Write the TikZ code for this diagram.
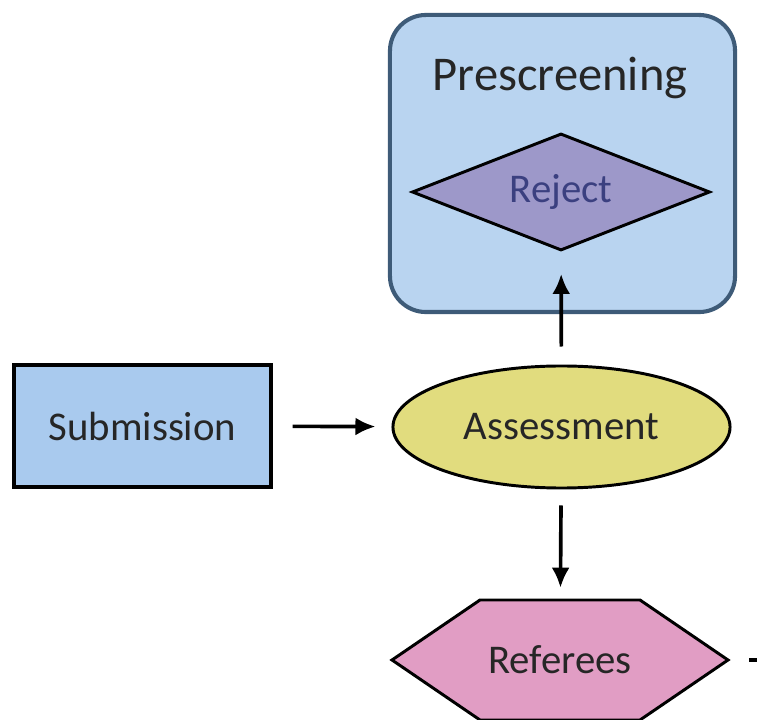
\documentclass[tikz,border=0pt]{standalone}
\usepackage{fontspec}
\setmainfont{Carlito}
\usetikzlibrary{%
  arrows.meta,%
  shapes.geometric%
}
\definecolor{boxblue}{HTML}{A9CAEE}
\definecolor{panelblue}{HTML}{B9D4F0}
\definecolor{paneledge}{HTML}{3E5B78}
\definecolor{diapurple}{HTML}{9D98C9}
\definecolor{ellyellow}{HTML}{E1DC7E}
\definecolor{hexpink}{HTML}{E19DC4}
\definecolor{rejtext}{HTML}{3B4080}
\tikzset{
  lbl/.style={font=\fontsize{29}{34}\selectfont,text=black!85},
  edge/.style={draw,line width=2.1pt},
  flow/.style={line width=2.6pt,-{Latex[length=0.5cm,width=0.45cm]}}
}

\begin{document}
\begin{tikzpicture}[x=0.025cm,y=-0.025cm]
  \useasboundingbox (0,0) rectangle (757,720);
  \node[draw=paneledge,line width=2.9pt,fill=panelblue,rounded corners=0.9cm,
    minimum width=8.625cm,minimum height=7.425cm] (pre) at (562.5,163.5) {};
  \node[font=\fontsize{34.5}{40}\selectfont,text=black!85] (pretitle) at (560,78) {Prescreening};
  \node[lbl,text=rejtext,diamond,aspect=2.55,edge,fill=diapurple,inner sep=0pt,
    minimum width=7.45cm,minimum height=2.925cm] (rej) at (561,192) {Reject};
  \node[lbl,edge,line width=2.4pt,fill=boxblue,minimum width=6.425cm,
    minimum height=3.05cm] (sub) at (142.5,426) {Submission};
  \node[lbl,ellipse,edge,fill=ellyellow,minimum width=8.425cm,
    minimum height=3.05cm] (ass) at (561.5,427) {Assessment};
  % hexagon behind the label
  \coordinate (hexc) at (560,660);
  \draw[line width=2.1pt,fill=hexpink,line join=miter] (hexc) ++(-168,0) -- ++(88,-60)
    -- ++(160,0) -- ++(88,60) -- ++(-88,60) -- ++(-160,0) -- cycle;
  \node[lbl,minimum width=8.45cm,minimum height=3cm] (ref) at (hexc) {Referees};
  \coordinate (away) at (775,660);
  \draw[flow,shorten <=0.5cm,shorten >=0.4cm] (sub) -- (ass);
  \draw[flow,shorten <=0.45cm,shorten >=0.55cm] (ass) -- (rej);
  \draw[flow,shorten <=0.4cm,shorten >=0.3cm] (ass) -- (ref);
  \draw[line width=2.6pt,shorten <=0.5cm] (ref.east) -- (away);
\end{tikzpicture}
\end{document}
